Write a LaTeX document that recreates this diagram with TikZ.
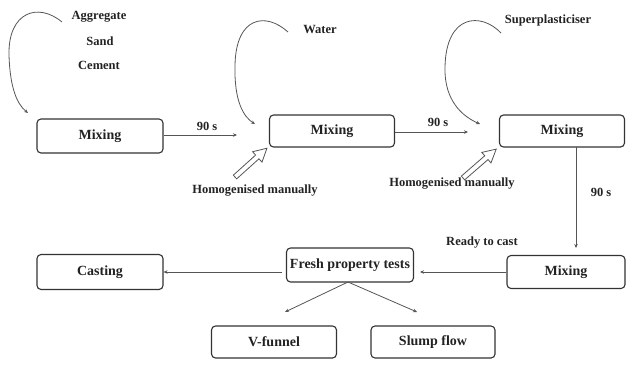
\documentclass[tikz,border=0pt]{standalone}
\usepackage{fontspec}
\setmainfont{Liberation Serif}
\usetikzlibrary{arrows.meta}
\definecolor{boxline}{HTML}{333333}
\definecolor{conn}{HTML}{555555}
\definecolor{txt}{HTML}{222222}
\begin{document}
\begin{tikzpicture}[x=1pt,y=-1pt,
  stepbox/.style={draw=boxline,line width=1.1pt,rounded corners=4pt,inner sep=1pt,
    font=\fontsize{14}{16}\selectfont\bfseries,text=txt,minimum height=33pt},
  lbl/.style={font=\fontsize{12.5}{14}\selectfont\bfseries,text=txt,inner sep=0pt},
  conline/.style={draw=conn,line width=0.8pt,-{Stealth[length=4pt,width=3.5pt]}},
  curvearrow/.style={draw=conn,line width=0.8pt,-{Stealth[length=4pt,width=3.5pt]}},
  hollow/.style={draw=conn,line width=0.8pt,fill=white}]
\useasboundingbox (0,0) rectangle (629,365);
% boxes
\node[stepbox,minimum width=126pt,minimum height=34pt] (m1) at (100,136) {Mixing};
\node[stepbox,minimum width=125pt,minimum height=32pt] (m2) at (332,131) {Mixing};
\node[stepbox,minimum width=125pt,minimum height=32pt] (m3) at (562,131) {Mixing};
\node[stepbox,minimum width=118pt] (m4) at (566,272) {Mixing};
\node[stepbox,minimum width=127pt,minimum height=34pt] (fpt) at (350,265) {Fresh property tests};
\node[stepbox,minimum width=126pt,minimum height=35pt] (cast) at (100,272) {Casting};
\node[stepbox,minimum width=125pt,minimum height=32pt] (vf) at (274,342) {V-funnel};
\node[stepbox,minimum width=124pt,minimum height=32pt] (sf) at (433,342) {Slump flow};
% labels
\node[lbl] (agg) at (99,17) {Aggregate};
\node[lbl] (sand) at (100,41) {Sand};
\node[lbl] (cem) at (99,65) {Cement};
\node[lbl] (wat) at (320,29) {Water};
\node[lbl] (sup) at (548,20) {Superplasticiser};
\node[lbl] (hom1) at (255,191) {Homogenised manually};
\node[lbl] (hom2) at (452,184) {Homogenised manually};
\node[lbl] (rtc) at (482,243) {Ready to cast};
\node[lbl] (t1) at (207,126) {90 s};
\node[lbl] (t2) at (438,122) {90 s};
\node[lbl] (t3) at (601,192) {90 s};
% free coordinates
\coordinate (c1) at (237,135);
\coordinate (c2) at (468,132);
\coordinate (c3s) at (576,147);
\coordinate (c3e) at (576,248);
\coordinate (c4) at (420,272);
\coordinate (c5) at (282,272);
\coordinate (c6) at (348,282);
\coordinate (c7) at (285,312);
\coordinate (c8) at (417,312);
\coordinate (k1s) at (62,22);
\coordinate (k1e) at (28,113);
\coordinate (k2s) at (288,32);
\coordinate (k2e) at (255,124);
\coordinate (k3s) at (501,33);
\coordinate (k3e) at (480,124);
% connectors
\draw[conline] (m1.east |- c1) -- (c1);
\draw[conline] (m2.east |- c2) -- (c2);
\draw[conline] (c3s) -- (c3e);
\draw[conline] (m4.west) -- (c4);
\draw[conline] (c5) -- (cast.east);
\draw[conline] (c6) -- (c7);
\draw[conline] (c6) -- (c8);
% curved inputs
\draw[curvearrow] (k1s) .. controls (38,2) and (8,12) .. (9,55) .. controls (10,88) and (17,104) .. (k1e);
\draw[curvearrow] (k2s) .. controls (266,12) and (236,16) .. (235,65) .. controls (234,102) and (244,117) .. (k2e);
\draw[curvearrow] (k3s) .. controls (481,12) and (446,14) .. (445,67) .. controls (444,102) and (464,117) .. (k3e);
% hollow arrows
\begin{scope}[shift={(235,177)},rotate=42]
\draw[hollow] (0,-2.5) -- (30,-2.5) -- (30,-7) -- (43,0) -- (30,7) -- (30,2.5) -- (0,2.5) -- cycle;
\end{scope}
\begin{scope}[shift={(463,178)},rotate=41]
\draw[hollow] (0,-2.5) -- (31,-2.5) -- (31,-7) -- (44,0) -- (31,7) -- (31,2.5) -- (0,2.5) -- cycle;
\end{scope}
\end{tikzpicture}
\end{document}
